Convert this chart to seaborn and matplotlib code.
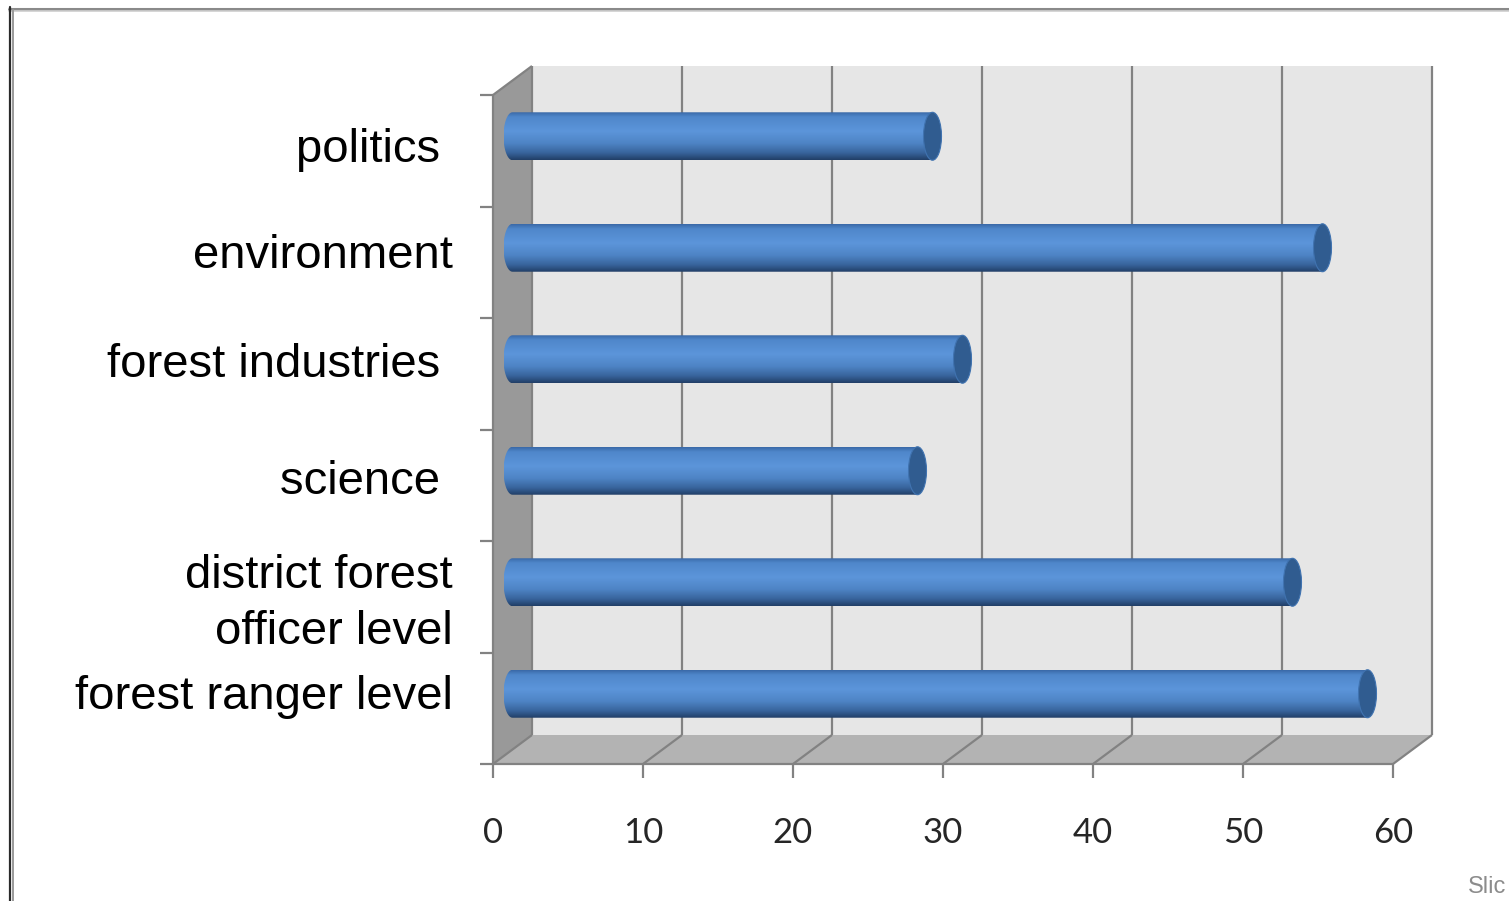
import numpy as np
import pandas as pd
import matplotlib
matplotlib.use("Agg")
import matplotlib.pyplot as plt
import seaborn as sns
from matplotlib.patches import Polygon, Ellipse, PathPatch
from matplotlib.path import Path
from matplotlib.lines import Line2D
from matplotlib.colors import LinearSegmentedColormap
from matplotlib.transforms import IdentityTransform, ScaledTranslation

# ---- data -------------------------------------------------------------
categories = ["politics ", "environment", "forest industries ", "science ",
              "district forest\nofficer level", "forest ranger level"]
shares = [28, 54, 30, 27, 52, 57]
x_ticks = [0, 10, 20, 30, 40, 50, 60]

# small downward nudges of the category labels (pixels)
label_nudge_px = [9, 3, 1, 6, 11, -2]

# ---- figure -----------------------------------------------------------
W, H, DPI = 1509, 901, 100
sns.set_theme(style="white")
plt.rcParams["font.family"] = ["Liberation Sans", "DejaVu Sans"]

fig = plt.figure(figsize=(W / DPI, H / DPI), dpi=DPI, facecolor="white")

# the axes spans the mid-depth plane of the 3-D box (pixel units)
left_px, right_px, top_px, bottom_px = 512.5, 1412.5, 80.5, 749.5
ax = fig.add_axes([left_px / W, 1 - bottom_px / H,
                   (right_px - left_px) / W, (bottom_px - top_px) / H])

df = pd.DataFrame({"category": categories, "share": shares})
sns.barplot(data=df, x="share", y="category", orient="h", width=0.43,
            color="#4f86c6", saturation=1, ax=ax, zorder=5)

xmax = x_ticks[-1]
ax.set_xlim(0, xmax)
ax.set_ylim(len(categories) - 0.5, -0.5)
ax.set_xlabel("")
ax.set_ylabel("")
ax.set_xticks([])
ax.patch.set_alpha(0)
for s in ax.spines.values():
    s.set_visible(False)
ax.tick_params(axis="y", length=0, pad=42.8, labelsize=34, labelcolor="black")
for lab, dy in zip(ax.get_yticklabels(), label_nudge_px):
    lab.set_linespacing(1.35)
    lab.set_transform(lab.get_transform() +
                      ScaledTranslation(0, -dy / DPI, fig.dpi_scale_trans))

# ---- 3-D box helpers --------------------------------------------------
depth = np.array([19.5, 14.5])   # half-depth offset in pixels (display coords)
ID = IdentityTransform()


def P(x, y, d):
    """display point of data (x, y) pushed back (d=+1) or forward (d=-1)"""
    return ax.transData.transform((x, y)) + d * depth


y_top, y_bot = -0.5, len(categories) - 0.5
grid_col = "#828282"

back = Polygon([P(0, y_top, 1), P(xmax, y_top, 1), P(xmax, y_bot, 1), P(0, y_bot, 1)],
               closed=True, fc="#e6e6e6", ec="none", transform=ID, clip_on=False, zorder=0)
wall = Polygon([P(0, y_top, -1), P(0, y_top, 1), P(0, y_bot, 1), P(0, y_bot, -1)],
               closed=True, fc="#999999", ec="none", transform=ID, clip_on=False, zorder=1)
floor = Polygon([P(0, y_bot, -1), P(0, y_bot, 1), P(xmax, y_bot, 1), P(xmax, y_bot, -1)],
                closed=True, fc="#b3b3b3", ec="none", transform=ID, clip_on=False, zorder=1)
for poly in (back, wall, floor):
    ax.add_patch(poly)


def seg(a, b, **kw):
    kw.setdefault("color", grid_col)
    kw.setdefault("lw", 1.6)
    ax.add_line(Line2D([a[0], b[0]], [a[1], b[1]], transform=ID, clip_on=False,
                       solid_capstyle="butt", **kw))


for t in x_ticks:
    seg(P(t, y_top, 1), P(t, y_bot, 1), zorder=2)
    seg(P(t, y_bot, 1), P(t, y_bot, -1), zorder=2)
    # tick below the front floor edge
    a = P(t, y_bot, -1)
    seg(a, a - np.array([0, 14]), zorder=2)
    ax.text(a[0], a[1] - 69, str(t), transform=ID, ha="center", va="center",
            fontsize=25, family=["Lato", "DejaVu Sans"], color="#262626")

seg(P(0, y_top, -1), P(0, y_bot, -1), zorder=3)
seg(P(0, y_top, -1), P(0, y_top, 1), zorder=3)
seg(P(0, y_bot, -1), P(xmax, y_bot, -1), zorder=3)
for k in range(len(categories) + 1):
    a = P(0, k - 0.5, -1)
    seg(a, a - np.array([13, 0]), zorder=3)

# ---- cylinder shading for the bars ------------------------------------
cyl = LinearSegmentedColormap.from_list("cyl", [
    (0.00, "#3a69a7"), (0.10, "#4f87cb"), (0.40, "#5c95da"),
    (0.65, "#4e84c5"), (0.85, "#38649c"), (1.00, "#213e66")])
grad = np.linspace(0, 1, 256).reshape(-1, 1)
cap_a = 0.6   # half-width of the elliptical end caps, in data units

for p in list(ax.patches):
    if isinstance(p, Polygon) or not hasattr(p, "get_width"):
        continue
    x0, y0, w, h = p.get_x(), p.get_y(), p.get_width(), p.get_height()
    if w <= 0 or h <= 0:
        continue
    p.set_alpha(0)
    yc = y0 + h / 2
    th = np.linspace(np.pi / 2, 3 * np.pi / 2, 40)
    verts = [(x0 + w, y0)] + [(x0 + cap_a * np.cos(t), yc - h / 2 * np.sin(t)) for t in th] \
        + [(x0 + w, y0 + h), (x0 + w, y0)]
    codes = [Path.MOVETO] + [Path.LINETO] * (len(verts) - 2) + [Path.CLOSEPOLY]
    clip = PathPatch(Path(verts, codes), transform=ax.transData, fc="none", ec="none")
    ax.add_patch(clip)
    im = ax.imshow(grad, cmap=cyl, aspect="auto", origin="upper",
                   extent=[x0 - cap_a, x0 + w, y0 + h, y0], zorder=5,
                   interpolation="bilinear")
    im.set_clip_box(fig.bbox)
    im.set_clip_path(clip)
    ax.add_patch(Ellipse((x0 + w, yc), 2 * cap_a, h, fc="#305c90", ec="#4073b0",
                         lw=0.8, zorder=6))

ax.set_xlim(0, xmax)
ax.set_ylim(len(categories) - 0.5, -0.5)
ax.set_aspect("auto")

# ---- slide frame and footer -------------------------------------------
fig.add_artist(Line2D([9, W], [H - 8.5, H - 8.5], color="#8a8a8a", lw=2.2, transform=ID))
fig.add_artist(Line2D([9, W], [H - 11, H - 11], color="#cfcfcf", lw=1.2, transform=ID))
fig.add_artist(Line2D([10, 10], [0, H - 7], color="#2a2a2a", lw=1.6, transform=ID))
fig.add_artist(Line2D([12.5, 12.5], [0, H - 10], color="#9a9a9a", lw=1.4, transform=ID))
fig.text(1468, H - 893, "Slic", transform=ID, ha="left", va="baseline",
         fontsize=17, color="#8c8c8c")

fig.savefig("out.png", dpi=DPI, facecolor="white")
